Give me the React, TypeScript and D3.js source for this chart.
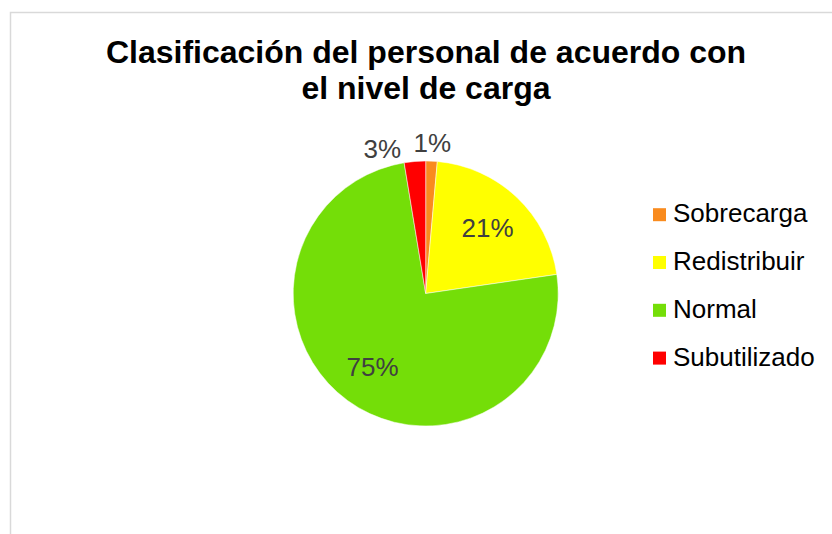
import React from "react";
import * as d3 from "d3";

const title = ["Clasificación del personal de acuerdo con", "el nivel de carga"];
const categories = ["Sobrecarga", "Redistribuir", "Normal", "Subutilizado"];
const values = [1.4, 21.3, 74.7, 2.6];
const colors = ["#F98B1E", "#FFFF00", "#74DE08", "#FF0000"];

const W = 832;
const H = 534;
const cx = 425.7;
const cy = 293.5;
const R = 132.5;
const labelFont = 26;

function measure(text: string, font: string): number {
  if (typeof document === "undefined") return text.length * 15;
  const c = document.createElement("canvas").getContext("2d");
  if (!c) return text.length * 15;
  c.font = font;
  return c.measureText(text).width;
}

export default function App() {
  const total = d3.sum(values);
  const pie = d3
    .pie<number>()
    .sort(null)
    .value((d) => d)
    .startAngle(0)
    .endAngle(2 * Math.PI);
  const arcs = pie(values);
  const arc = d3.arc<d3.PieArcDatum<number>>().innerRadius(0).outerRadius(R);
  const inR = R * 0.68;
  const inArc = d3.arc<d3.PieArcDatum<number>>().innerRadius(inR).outerRadius(inR);
  const outR = R + 18.5;
  const font = `${labelFont}px 'Liberation Sans', Arial, sans-serif`;

  type Lab = { x: number; y: number; text: string; w: number };
  const placed: Lab[] = [];
  const labels: Lab[] = arcs.map((a) => {
    const text = `${Math.round((a.value / total) * 100)}%`;
    const w = measure(text, font);
    const frac = a.value / total;
    if (frac >= 0.05) {
      const [x, y] = inArc.centroid(a);
      return { x: cx + x, y: cy + y, text, w };
    }
    let ang = (a.startAngle + a.endAngle) / 2;
    const dir = Math.sin(ang) < 0 ? -1 : 1;
    const gap = 12;
    let lab: Lab = { x: 0, y: 0, text, w };
    for (let k = 0; k < 200; k++) {
      lab = { x: cx + outR * Math.sin(ang), y: cy - outR * Math.cos(ang), text, w };
      const hit = placed.some(
        (p) => Math.abs(p.x - lab.x) < (p.w + lab.w) / 2 + gap && Math.abs(p.y - lab.y) < labelFont
      );
      if (!hit) break;
      ang += (dir * Math.PI) / 360;
    }
    placed.push(lab);
    return lab;
  });

  const legendX = 653;
  const legendY0 = 214.7;
  const legendStep = 47.8;

  return (
    <svg
      width={W}
      height={H}
      style={{ position: "absolute", left: 0, top: 0, background: "#fff" }}
      fontFamily="'Liberation Sans', Arial, sans-serif"
    >
      <rect x={0} y={0} width={W} height={H} fill="#fff" />
      <rect x={10.5} y={12.5} width={W + 40} height={H + 40} fill="#fff" stroke="#D9D9D9" strokeWidth={1.5} />
      {title.map((t, i) => (
        <text key={i} x={426} y={63 + i * 36} textAnchor="middle" fontSize={32} fontWeight="bold" fill="#000">
          {t}
        </text>
      ))}
      <g transform={`translate(${cx},${cy})`}>
        {arcs.map((a, i) => (
          <path key={i} d={arc(a) || ""} fill={colors[i]} stroke="#fff" strokeWidth={0.5} />
        ))}
      </g>
      {labels.map((l, i) => (
        <text key={i} x={l.x} y={l.y} dy="0.36em" textAnchor="middle" fontSize={labelFont} fill="#404040">
          {l.text}
        </text>
      ))}
      {categories.map((c, i) => (
        <g key={c}>
          <rect x={legendX} y={legendY0 + i * legendStep - 6.5} width={13} height={13} fill={colors[i]} />
          <text x={legendX + 20} y={legendY0 + i * legendStep + 7.6} fontSize={26} fill="#000">
            {c}
          </text>
        </g>
      ))}
    </svg>
  );
}
